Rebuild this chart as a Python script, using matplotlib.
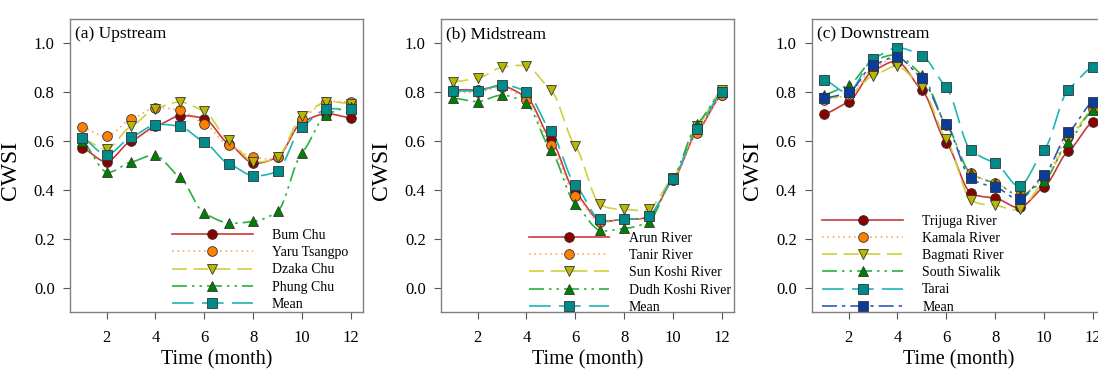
import numpy as np
import matplotlib
matplotlib.use("Agg")
import matplotlib.pyplot as plt
from matplotlib.lines import Line2D

plt.rcParams['font.family'] = ['Liberation Serif', 'DejaVu Serif']

months = list(range(1, 13))

# (a) Upstream
up_names = ["Bum Chu", "Yaru Tsangpo", "Dzaka Chu", "Phung Chu", "Mean"]
bum_chu = [0.571, 0.516, 0.600, 0.660, 0.703, 0.692, 0.590, 0.510, 0.534, 0.678, 0.712, 0.695]
yaru_tsangpo = [0.656, 0.620, 0.689, 0.736, 0.726, 0.671, 0.582, 0.534, 0.534, 0.692, 0.760, 0.760]
dzaka_chu = [0.610, 0.568, 0.660, 0.733, 0.760, 0.722, 0.603, 0.516, 0.534, 0.703, 0.760, 0.753]
phung_chu = [0.600, 0.473, 0.514, 0.541, 0.452, 0.304, 0.264, 0.271, 0.312, 0.552, 0.708, 0.740]
up_mean = [0.612, 0.544, 0.616, 0.667, 0.660, 0.596, 0.507, 0.459, 0.478, 0.658, 0.730, 0.730]

# (b) Midstream
mid_names = ["Arun River", "Tanir River", "Sun Koshi River", "Dudh Koshi River", "Mean"]
arun = [0.810, 0.810, 0.825, 0.780, 0.607, 0.390, 0.275, 0.280, 0.290, 0.440, 0.640, 0.790]
tanir = [0.800, 0.800, 0.820, 0.770, 0.582, 0.377, 0.270, 0.280, 0.290, 0.440, 0.634, 0.790]
sun_koshi = [0.843, 0.857, 0.902, 0.907, 0.809, 0.579, 0.342, 0.321, 0.321, 0.450, 0.660, 0.810]
dudh_koshi = [0.776, 0.762, 0.788, 0.754, 0.563, 0.342, 0.235, 0.242, 0.270, 0.450, 0.672, 0.800]
mid_mean = [0.806, 0.806, 0.830, 0.802, 0.641, 0.422, 0.279, 0.280, 0.294, 0.444, 0.650, 0.800]

# (c) Downstream
down_names = ["Trijuga River", "Kamala River", "Bagmati River", "South Siwalik", "Tarai", "Mean"]
trijuga = [0.711, 0.761, 0.888, 0.925, 0.809, 0.593, 0.388, 0.367, 0.328, 0.412, 0.559, 0.679]
kamala = [0.770, 0.790, 0.900, 0.940, 0.859, 0.667, 0.468, 0.429, 0.378, 0.447, 0.617, 0.731]
bagmati = [0.775, 0.790, 0.867, 0.906, 0.820, 0.608, 0.360, 0.337, 0.320, 0.433, 0.600, 0.735]
south_siwalik = [0.790, 0.830, 0.930, 0.952, 0.872, 0.670, 0.468, 0.429, 0.378, 0.437, 0.597, 0.727]
tarai = [0.851, 0.800, 0.937, 0.982, 0.950, 0.820, 0.563, 0.511, 0.416, 0.563, 0.811, 0.904]
down_mean = [0.776, 0.800, 0.910, 0.943, 0.857, 0.669, 0.447, 0.412, 0.362, 0.460, 0.636, 0.761]

# styles: (line color, linestyle, marker, marker face)
S_RED = ("#c83a3a", "solid", "o", "#8b0000")
S_ORG = ("#ffa860", (0, (1, 2.2)), "o", "#ff8000")
S_YEL = ("#d0d040", (0, (9, 4)), "v", "#b8b800")
S_GRN = ("#28b040", (0, (9, 3, 1.5, 3, 1.5, 3)), "^", "#008000")
S_TEAL = ("#20b4b4", (0, (13, 5)), "s", "#008b8b")
S_BLUE = ("#2c5cb8", (0, (9, 3, 2, 3)), "s", "#0a3c9a")


def cardinal(x, y, n=24, tension=0.5):
    """Smooth drawing path through the data points (cardinal spline)."""
    x = np.asarray(x, float)
    y = np.asarray(y, float)
    m = np.zeros_like(y)
    m[1:-1] = (y[2:] - y[:-2]) / 2.0
    m[0] = y[1] - y[0]
    m[-1] = y[-1] - y[-2]
    m *= (1 - tension)
    t = np.linspace(0, 1, n, endpoint=False)
    h00 = 2 * t ** 3 - 3 * t ** 2 + 1
    h10 = t ** 3 - 2 * t ** 2 + t
    h01 = -2 * t ** 3 + 3 * t ** 2
    h11 = t ** 3 - t ** 2
    xs, ys = [], []
    for i in range(len(x) - 1):
        xs.append(x[i] + (x[i + 1] - x[i]) * t)
        ys.append(h00 * y[i] + h10 * m[i] + h01 * y[i + 1] + h11 * m[i + 1])
    xs.append([x[-1]])
    ys.append([y[-1]])
    return np.concatenate(xs), np.concatenate(ys)


panels = [
    ("(a) Upstream", up_names, [bum_chu, yaru_tsangpo, dzaka_chu, phung_chu, up_mean],
     [S_RED, S_ORG, S_YEL, S_GRN, S_TEAL], 70, (0.348, 0.283)),
    ("(b) Midstream", mid_names, [arun, tanir, sun_koshi, dudh_koshi, mid_mean],
     [S_RED, S_ORG, S_YEL, S_GRN, S_TEAL], 441, (0.30, 0.273)),
    ("(c) Downstream", down_names, [trijuga, kamala, bagmati, south_siwalik, tarai, down_mean],
     [S_RED, S_ORG, S_YEL, S_GRN, S_TEAL, S_BLUE], 812, (0.035, 0.332)),
]

W, H = 1098, 369
fig = plt.figure(figsize=(W / 100, H / 100), dpi=100)

for title, names, series, styles, left_px, leg_pos in panels:
    ax = fig.add_axes([left_px / W, (H - 312) / H, 293 / W, 293 / H])
    handles = []
    for name, vals, (lc, ls, mk, mf) in zip(names, series, styles):
        sx, sy = cardinal(months, vals)
        ax.plot(sx, sy, color=lc, linestyle=ls, linewidth=1.2, zorder=2)
        ax.plot(months, vals, linestyle="none", marker=mk, markersize=7,
                markerfacecolor=mf, markeredgecolor="#333333", markeredgewidth=0.6, zorder=3)
        handles.append(Line2D([0], [0], color=lc, linestyle=ls, linewidth=1.2, marker=mk,
                              markersize=7, markerfacecolor=mf, markeredgecolor="#333333",
                              markeredgewidth=0.6))
    ax.set_xlim(0.5, 12.5)
    ax.set_ylim(-0.1, 1.1)
    ax.set_xticks([2, 4, 6, 8, 10, 12])
    ax.set_yticks([0.0, 0.2, 0.4, 0.6, 0.8, 1.0])
    ax.set_yticklabels(["0.0", "0.2", "0.4", "0.6", "0.8", "1.0"])
    ax.tick_params(direction="out", length=5, width=0.8, color="#555555", labelsize=12)
    ax.tick_params(axis="x", pad=8)
    ax.tick_params(axis="y", pad=6)
    for sp in ax.spines.values():
        sp.set_color("#808080")
        sp.set_linewidth(1.0)
    ax.set_ylabel("CWSI", fontsize=17)
    ax.yaxis.set_label_coords(-0.167, 0.485)
    ax.set_xlabel("Time (month)", fontsize=14.5, labelpad=3)
    ax.text(0.017, 0.975, title, transform=ax.transAxes, ha="left", va="top", fontsize=12.5)
    ax.legend(handles, names, loc="upper left", bbox_to_anchor=leg_pos,
              frameon=False, fontsize=10, handlelength=5.8, handletextpad=1.4,
              labelspacing=0.30, borderpad=0, borderaxespad=0)

fig.savefig("out.png", dpi=100)
